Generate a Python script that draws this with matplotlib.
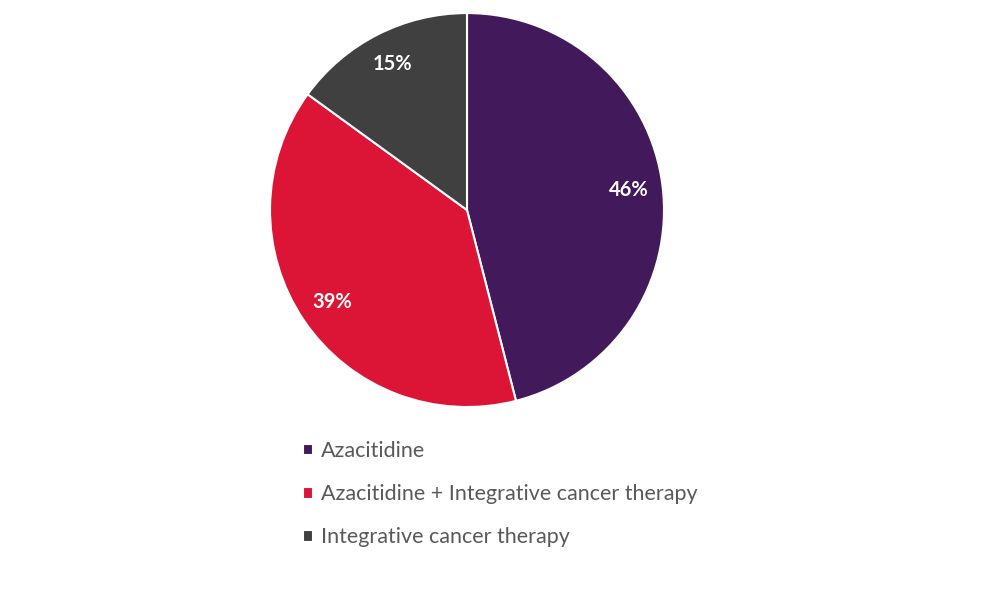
import matplotlib.pyplot as plt

plt.rcParams['font.family'] = ['Lato', 'DejaVu Sans']

labels = ['Azacitidine', 'Azacitidine + Integrative cancer therapy', 'Integrative cancer therapy']
shares = [46, 39, 15]
colors = ['#421A5C', '#DC1536', '#404040']

fig = plt.figure(figsize=(10, 6.13), dpi=100)
ax = fig.add_axes([0.27, 0.336, 0.394, 0.6427])

wedges, texts, autotexts = ax.pie(
    shares, colors=colors, startangle=90, counterclock=False,
    autopct='%d%%', pctdistance=0.83,
    wedgeprops=dict(edgecolor='white', linewidth=1.5),
    textprops=dict(color='white', fontsize=14.5, fontweight='bold'))
ax.set_xlim(-1, 1)
ax.set_ylim(-1, 1)
ax.set_aspect('equal')

leg = fig.legend(wedges, labels, loc='upper left', bbox_to_anchor=(0.303, 0.280),
                 frameon=False, fontsize=15.5, labelspacing=1.07,
                 handlelength=0.45, handleheight=0.45, handletextpad=0.4,
                 borderpad=0, borderaxespad=0)
for t in leg.get_texts():
    t.set_color('#595959')

fig.savefig('out.png', dpi=100)
